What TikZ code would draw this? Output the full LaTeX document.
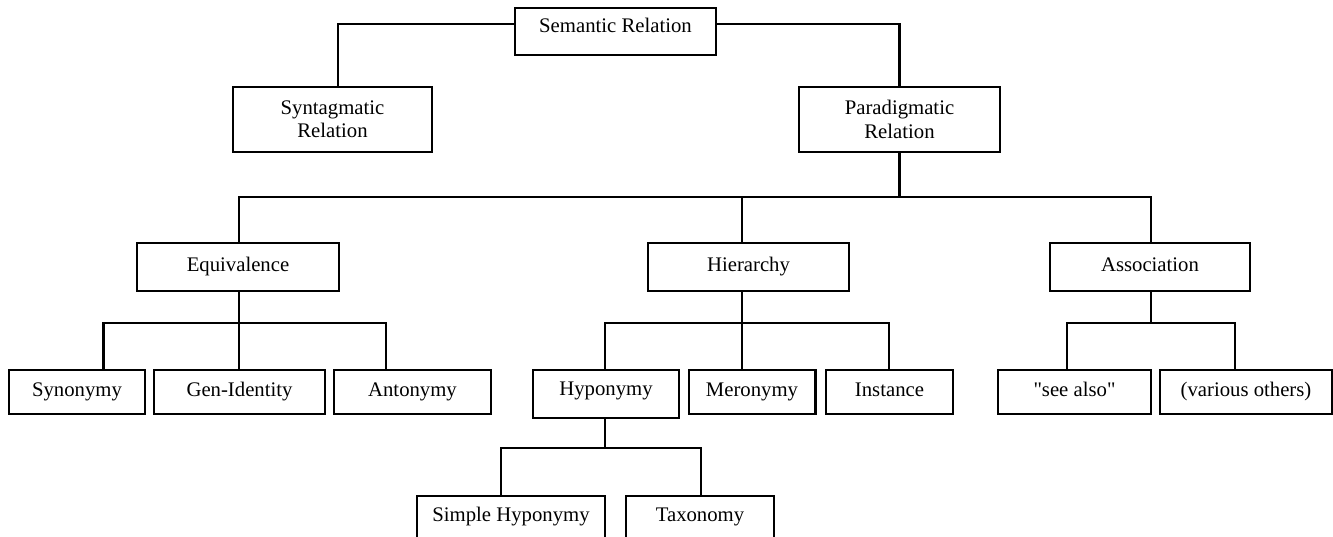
\documentclass[tikz,border=0pt]{standalone}
\usepackage{fontspec}
\setmainfont{Liberation Serif}
\newfontfamily\straightquotes{Liberation Serif}
\usetikzlibrary{positioning}

\begin{document}
\begin{tikzpicture}[x=0.02cm,y=-0.02cm,line width=1.15pt,
		box/.style={draw,inner sep=0pt,align=center,font=\fontsize{11.8}{13.3}\selectfont},
		word/.style={box,text height=1.55ex,text depth=0.5ex}]
					\useasboundingbox (0,0) rectangle (1333,537);
					\clip (0,0) rectangle (1333,537);
					
					% top
					\node[word,minimum width=4.02cm,minimum height=0.94cm,text depth=1.2ex] (sem) at (615.5,31.5) {Semantic Relation};
					\node[box,minimum width=3.98cm,minimum height=1.30cm] (syn) at (332.5,119.5) {Syntagmatic\\Relation};
					\node[box,minimum width=4.02cm,minimum height=1.30cm] (par) at (899.5,119.5) {Paradigmatic\\Relation};
					
					% second row
					\node[word,minimum width=4.04cm,minimum height=0.96cm] (equ) at (238,267) {Equivalence};
					\node[word,minimum width=4.02cm,minimum height=0.96cm] (hie) at (748.5,267) {Hierarchy};
					\node[word,minimum width=4.00cm,minimum height=0.96cm] (ass) at (1150,267) {Association};
					
					% third row
					\node[word,minimum width=2.72cm,minimum height=0.88cm] (syno) at (77,392) {Synonymy};
					\node[word,minimum width=3.42cm,minimum height=0.88cm] (gen) at (239.5,392) {Gen-Identity};
					\node[word,minimum width=3.14cm,minimum height=0.88cm] (ant) at (412.5,392) {Antonymy};
					\node[word,minimum width=2.92cm,minimum height=0.96cm,text depth=1.1ex] (hypo) at (606,394) {Hyponymy};
					\node[word,minimum width=2.54cm,minimum height=0.88cm] (mero) at (752,392) {Meronymy};
					\node[word,minimum width=2.54cm,minimum height=0.88cm] (inst) at (889.5,392) {Instance};
					\node[word,minimum width=3.06cm,minimum height=0.88cm] (see) at (1074.5,392) {{\straightquotes "see also"}};
					\node[word,minimum width=3.44cm,minimum height=0.88cm] (various) at (1246,392) {(various others)};
					
					% bottom row
					\node[word,minimum width=3.76cm,minimum height=0.96cm,text depth=1.1ex] (simple) at (511,520) {Simple Hyponymy};
					\node[word,minimum width=2.96cm,minimum height=0.96cm,text depth=1.1ex] (tax) at (700,520) {Taxonomy};
					
					% branch points
					\coordinate (tS) at (338,24);
					\coordinate (tP) at (899.5,24);
					\coordinate (bE) at (239,197);
					\coordinate (bH) at (742,197);
					\coordinate (bA) at (1151,197);
					\coordinate (eS) at (103.5,323);
					\coordinate (eG) at (239,323);
					\coordinate (eA) at (386,323);
					\coordinate (hH) at (605,323);
					\coordinate (hM) at (742,323);
					\coordinate (hI) at (889,323);
					\coordinate (aS) at (1067,323);
					\coordinate (aV) at (1234.5,323);
					\coordinate (yS) at (501,448);
					\coordinate (yH) at (605,448);
					\coordinate (yT) at (701,448);
					
					% connectors
					\draw (sem.west |- tS) -- (tS) -- (tS |- syn.north);
					\draw (sem.east |- tP) -- (tP) -- (tP |- par.north);
					\draw (tP |- par.south) -- (tP |- bE);
					\draw (bE |- equ.north) -- (bE) -- (bA) -- (bA |- ass.north);
					\draw (bH) -- (bH |- hie.north);
					
					\draw (eG |- equ.south) -- (eG) -- (eG |- gen.north);
					\draw (eS |- syno.north) -- (eS) -- (eA) -- (eA |- ant.north);
					\draw (hM |- hie.south) -- (hM) -- (hM |- mero.north);
					\draw (hH |- hypo.north) -- (hH) -- (hI) -- (hI |- inst.north);
					\draw (bA |- ass.south) -- (bA |- aS);
					\draw (aS |- see.north) -- (aS) -- (aV) -- (aV |- various.north);
					
					\draw (yH |- hypo.south) -- (yH);
					\draw (yS |- simple.north) -- (yS) -- (yT) -- (yT |- tax.north);
				\end{tikzpicture}
\end{document}
